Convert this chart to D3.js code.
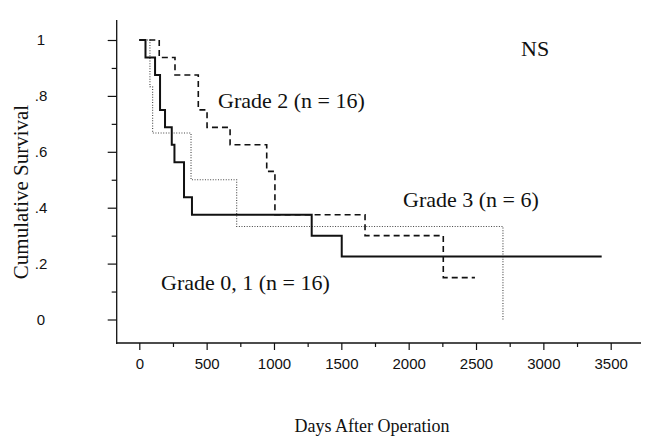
<!DOCTYPE html>
<html lang="en">
<head>
<meta charset="utf-8">
<style>
    body { margin: 0; background: #fff; }
    .tick text { font-family: "Liberation Sans", Arial, sans-serif; font-size: 15px; fill: #111; }
    .tick line { stroke: #111; stroke-width: 1.2; }
    .title { font-family: "Liberation Serif", "Times New Roman", serif; fill: #111; }
    .note { font-family: "Liberation Serif", "Times New Roman", serif; font-size: 22px; fill: #111; }
</style>
<script src="https://d3js.org/d3.v7.min.js"></script>
</head>
<body>
<svg width="650" height="436"></svg>
<script>
    // Kaplan-Meier steps (days, cumulative survival)
    var grade01Days = [0, 46, 117, 154, 191, 241, 261, 332, 391, 1280, 1503, 3433];
    var grade01Surv = [1, .9375, .875, .75, .6875, .625, .5625, .4375, .375, .30, .225, .225];

    var grade2Days = [0, 148, 265, 438, 503, 674, 946, 1007, 1676, 2257, 2492];
    var grade2Surv = [1, .9375, .875, .75, .6875, .625, .53, .375, .30, .15, .15];

    var grade3Days = [0, 79, 99, 384, 723, 2700];
    var grade3Surv = [1, .833, .667, .5, .333, 0];

    var xTicks = [0, 500, 1000, 1500, 2000, 2500, 3000, 3500];
    var xMinor = [250, 750, 1250, 1750, 2250, 2750, 3250];
    var yTicks = [0, .2, .4, .6, .8, 1];
    var yMinor = [.1, .3, .5, .7, .9];

    var svg = d3.select("svg");

    var x = d3.scaleLinear().domain([0, 3500]).range([139.3, 610.7]);
    var y = d3.scaleLinear().domain([0, 1]).range([319.5, 40]);
    var axisLeftX = 116.7, axisBottomY = 343;

    // axis lines
    svg.append("line")
        .attr("x1", axisLeftX).attr("x2", axisLeftX)
        .attr("y1", 20).attr("y2", axisBottomY + 1)
        .attr("stroke", "#111").attr("stroke-width", 1.3);
    svg.append("line")
        .attr("x1", axisLeftX).attr("x2", 641)
        .attr("y1", axisBottomY).attr("y2", axisBottomY)
        .attr("stroke", "#111").attr("stroke-width", 1.3);

    var gx = svg.append("g")
        .attr("transform", "translate(0," + axisBottomY + ")")
        .call(d3.axisBottom(x).tickValues(xTicks).tickSize(7).tickPadding(8).tickFormat(d3.format("d")));
    gx.select(".domain").remove();

    var gxm = svg.append("g")
        .attr("transform", "translate(0," + axisBottomY + ")")
        .call(d3.axisBottom(x).tickValues(xMinor).tickSize(4).tickFormat(""));
    gxm.select(".domain").remove();

    var gy = svg.append("g")
        .attr("transform", "translate(" + axisLeftX + ",0)")
        .call(d3.axisLeft(y).tickValues(yTicks).tickSize(9)
            .tickFormat(function(d) { return d === 0 || d === 1 ? String(d) : String(d).replace("0.", "."); }));
    gy.select(".domain").remove();
    gy.selectAll(".tick text")
        .attr("x", 41 - axisLeftX)
        .attr("text-anchor", "middle");

    var gym = svg.append("g")
        .attr("transform", "translate(" + axisLeftX + ",0)")
        .call(d3.axisLeft(y).tickValues(yMinor).tickSize(5).tickFormat(""));
    gym.select(".domain").remove();

    svg.selectAll(".tick line").attr("stroke", "#111");

    // step curves
    var line = d3.line()
        .x(function(d) { return x(d[0]); })
        .y(function(d) { return y(d[1]); })
        .curve(d3.curveStepAfter);

    function pairs(days, surv) {
        return days.map(function(d, i) { return [d, surv[i]]; });
    }

    svg.append("path")
        .datum(pairs(grade3Days, grade3Surv))
        .attr("d", line)
        .attr("fill", "none")
        .attr("stroke", "#444")
        .attr("stroke-width", 1.1)
        .attr("stroke-dasharray", "1,1.6");

    svg.append("path")
        .datum(pairs(grade2Days, grade2Surv))
        .attr("d", line)
        .attr("fill", "none")
        .attr("stroke", "#111")
        .attr("stroke-width", 1.6)
        .attr("stroke-dasharray", "6,4");

    svg.append("path")
        .datum(pairs(grade01Days, grade01Surv))
        .attr("d", line)
        .attr("fill", "none")
        .attr("stroke", "#111")
        .attr("stroke-width", 2);

    // labels
    svg.append("text").attr("class", "note").attr("x", 521).attr("y", 56).text("NS");
    svg.append("text").attr("class", "note").attr("x", 218).attr("y", 108).text("Grade 2 (n = 16)");
    svg.append("text").attr("class", "note").attr("x", 403).attr("y", 207).text("Grade 3 (n = 6)");
    svg.append("text").attr("class", "note").attr("x", 161).attr("y", 290).text("Grade 0, 1 (n = 16)");

    svg.append("text")
        .attr("class", "title")
        .attr("text-anchor", "middle")
        .attr("transform", "translate(28,192) rotate(-90)")
        .style("font-size", "21px")
        .text("Cumulative Survival");

    svg.append("text")
        .attr("class", "title")
        .attr("text-anchor", "middle")
        .attr("x", 372)
        .attr("y", 432)
        .style("font-size", "18px")
        .text("Days After Operation");
</script>
</body>
</html>
